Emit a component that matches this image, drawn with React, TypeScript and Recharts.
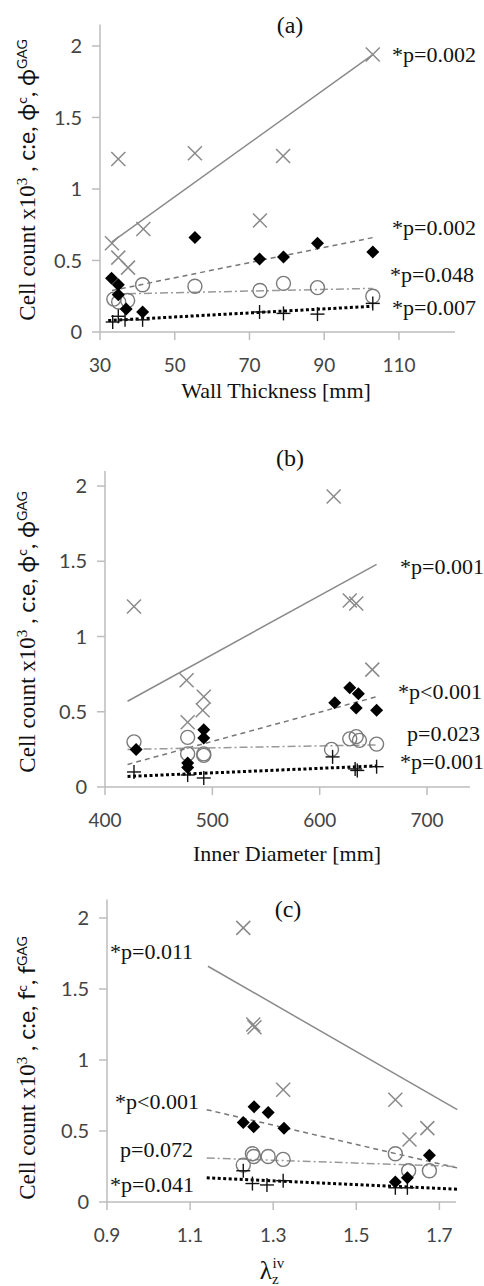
import React from 'react';
import { ScatterChart, Scatter, XAxis, YAxis, ReferenceLine } from 'recharts';

type Pt = { x: number; y: number };

// ---------- Panel (a): Wall Thickness ----------
const wallTicks = [30, 50, 70, 90, 110];
const wallCross: Pt[] = [
  { x: 33.2, y: 0.62 }, { x: 34.9, y: 1.21 }, { x: 34.9, y: 0.52 }, { x: 37.5, y: 0.45 },
  { x: 41.6, y: 0.72 }, { x: 55.4, y: 1.25 }, { x: 72.8, y: 0.78 }, { x: 79.0, y: 1.23 }, { x: 103, y: 1.94 },
];
const wallDiamond: Pt[] = [
  { x: 33.1, y: 0.375 }, { x: 34.9, y: 0.33 }, { x: 34.9, y: 0.26 }, { x: 37.0, y: 0.16 }, { x: 41.4, y: 0.14 },
  { x: 55.4, y: 0.66 }, { x: 72.7, y: 0.51 }, { x: 79.1, y: 0.525 }, { x: 88.2, y: 0.62 }, { x: 103, y: 0.56 },
];
const wallCircle: Pt[] = [
  { x: 33.7, y: 0.23 }, { x: 35.0, y: 0.21 }, { x: 37.4, y: 0.22 }, { x: 41.4, y: 0.33 }, { x: 55.4, y: 0.32 },
  { x: 72.8, y: 0.29 }, { x: 79.1, y: 0.34 }, { x: 88.2, y: 0.31 }, { x: 103, y: 0.25 },
];
const wallPlus: Pt[] = [
  { x: 33.4, y: 0.07 }, { x: 34.9, y: 0.11 }, { x: 36.7, y: 0.085 }, { x: 41.4, y: 0.085 },
  { x: 72.7, y: 0.14 }, { x: 79.1, y: 0.13 }, { x: 88.2, y: 0.125 }, { x: 103, y: 0.2 },
];
const wallTrendCross: Pt[] = [{ x: 33.2, y: 0.63 }, { x: 103, y: 1.94 }];
const wallTrendDiamond: Pt[] = [{ x: 33.2, y: 0.29 }, { x: 103, y: 0.66 }];
const wallTrendCircle: Pt[] = [{ x: 33.2, y: 0.265 }, { x: 103, y: 0.305 }];
const wallTrendPlus: Pt[] = [{ x: 32.2, y: 0.08 }, { x: 103, y: 0.18 }];

// ---------- Panel (b): Inner Diameter ----------
const diamTicks = [400, 500, 600, 700];
const diamCross: Pt[] = [
  { x: 427, y: 1.2 }, { x: 476, y: 0.71 }, { x: 477, y: 0.43 }, { x: 491, y: 0.51 }, { x: 492, y: 0.6 },
  { x: 613, y: 1.93 }, { x: 628, y: 1.24 }, { x: 634, y: 1.22 }, { x: 649, y: 0.78 },
];
const diamDiamond: Pt[] = [
  { x: 429, y: 0.25 }, { x: 477, y: 0.16 }, { x: 477, y: 0.13 }, { x: 492, y: 0.38 }, { x: 492, y: 0.325 },
  { x: 614, y: 0.56 }, { x: 628, y: 0.66 }, { x: 636, y: 0.62 }, { x: 634, y: 0.525 }, { x: 653, y: 0.51 },
];
const diamCircle: Pt[] = [
  { x: 427, y: 0.3 }, { x: 477, y: 0.33 }, { x: 477, y: 0.22 }, { x: 492, y: 0.22 }, { x: 492, y: 0.21 },
  { x: 611, y: 0.25 }, { x: 628, y: 0.32 }, { x: 634, y: 0.335 }, { x: 637, y: 0.31 }, { x: 653, y: 0.285 },
];
const diamPlus: Pt[] = [
  { x: 427, y: 0.1 }, { x: 477, y: 0.08 }, { x: 492, y: 0.06 }, { x: 612, y: 0.2 },
  { x: 633, y: 0.12 }, { x: 635, y: 0.11 }, { x: 653, y: 0.135 },
];
const diamTrendCross: Pt[] = [{ x: 421, y: 0.57 }, { x: 653, y: 1.48 }];
const diamTrendDiamond: Pt[] = [{ x: 421, y: 0.15 }, { x: 653, y: 0.6 }];
const diamTrendCircle: Pt[] = [{ x: 421, y: 0.25 }, { x: 653, y: 0.28 }];
const diamTrendPlus: Pt[] = [{ x: 421, y: 0.07 }, { x: 653, y: 0.14 }];

// ---------- Panel (c): lambda_z ----------
const lamTicks = [0.9, 1.1, 1.3, 1.5, 1.7];
const lamCross: Pt[] = [
  { x: 1.228, y: 1.93 }, { x: 1.252, y: 1.25 }, { x: 1.255, y: 1.23 }, { x: 1.324, y: 0.79 },
  { x: 1.594, y: 0.72 }, { x: 1.628, y: 0.44 }, { x: 1.671, y: 0.52 },
];
const lamDiamond: Pt[] = [
  { x: 1.228, y: 0.56 }, { x: 1.254, y: 0.67 }, { x: 1.253, y: 0.53 }, { x: 1.288, y: 0.63 },
  { x: 1.326, y: 0.52 }, { x: 1.594, y: 0.14 }, { x: 1.623, y: 0.17 }, { x: 1.676, y: 0.33 },
];
const lamCircle: Pt[] = [
  { x: 1.228, y: 0.26 }, { x: 1.25, y: 0.34 }, { x: 1.253, y: 0.32 }, { x: 1.288, y: 0.32 },
  { x: 1.324, y: 0.3 }, { x: 1.594, y: 0.34 }, { x: 1.626, y: 0.22 }, { x: 1.676, y: 0.22 },
];
const lamPlus: Pt[] = [
  { x: 1.228, y: 0.22 }, { x: 1.25, y: 0.13 }, { x: 1.285, y: 0.12 }, { x: 1.324, y: 0.15 },
  { x: 1.594, y: 0.1 }, { x: 1.623, y: 0.1 },
];
const lamTrendCross: Pt[] = [{ x: 1.143, y: 1.66 }, { x: 1.743, y: 0.65 }];
const lamTrendDiamond: Pt[] = [{ x: 1.14, y: 0.65 }, { x: 1.743, y: 0.24 }];
const lamTrendCircle: Pt[] = [{ x: 1.14, y: 0.31 }, { x: 1.743, y: 0.25 }];
const lamTrendPlus: Pt[] = [{ x: 1.14, y: 0.17 }, { x: 1.743, y: 0.09 }];

const yTicks = [0, 0.5, 1, 1.5, 2];

// ---------- shapes ----------
const CrossShape = (p: any) => {
  const { cx, cy } = p;
  const s = 7;
  return (
    <g stroke="#8a8a8a" strokeWidth={1.5}>
      <line x1={cx - s} y1={cy - s} x2={cx + s} y2={cy + s} />
      <line x1={cx - s} y1={cy + s} x2={cx + s} y2={cy - s} />
    </g>
  );
};
const DiamondShape = (p: any) => {
  const { cx, cy } = p;
  const s = 6.5;
  return <polygon points={`${cx},${cy - s} ${cx + s},${cy} ${cx},${cy + s} ${cx - s},${cy}`} fill="#000" />;
};
const CircleShape = (p: any) => {
  const { cx, cy } = p;
  return <circle cx={cx} cy={cy} r={7} fill="none" stroke="#7a7a7a" strokeWidth={1.4} />;
};
const PlusShape = (p: any) => {
  const { cx, cy } = p;
  const s = 7;
  return (
    <g stroke="#111" strokeWidth={1.4}>
      <line x1={cx - s} y1={cy} x2={cx + s} y2={cy} />
      <line x1={cx} y1={cy - s} x2={cx} y2={cy + s} />
    </g>
  );
};

const serif = '"Liberation Serif", "Times New Roman", serif';
const sans = 'Lato, "Open Sans", sans-serif';

type PanelProps = {
  top: number;
  height: number;
  plotLeft: number;
  plotRight: number;
  plotTop: number;
  plotBottom: number;
  xDomain: [number, number];
  xTicks: number[];
  yMax: number;
  cross: Pt[];
  diamond: Pt[];
  circle: Pt[];
  plus: Pt[];
  tCross: Pt[];
  tDiamond: Pt[];
  tCircle: Pt[];
  tPlus: Pt[];
};

const Y_AXIS_W = 60;
const X_AXIS_H = 40;

const Panel = (p: PanelProps) => {
  const margin = {
    top: p.plotTop,
    left: p.plotLeft - Y_AXIS_W,
    right: 484 - p.plotRight,
    bottom: p.height - p.plotBottom - X_AXIS_H,
  };
  const seg = (a: Pt[]) => [{ x: a[0].x, y: a[0].y }, { x: a[1].x, y: a[1].y }] as any;
  return (
    <div style={{ position: 'absolute', left: 0, top: p.top }}>
      <ScatterChart width={484} height={p.height} margin={margin}>
        <XAxis
          type="number"
          dataKey="x"
          domain={p.xDomain}
          ticks={p.xTicks}
          allowDataOverflow
          height={X_AXIS_H}
          axisLine={{ stroke: '#bdbdbd', strokeWidth: 1.5 }}
          tickLine={{ stroke: '#bdbdbd', strokeWidth: 1.5 }}
          tickSize={8}
          tickMargin={19}
          tick={{ fill: '#444', fontSize: 19, fontFamily: sans }}
        />
        <YAxis
          type="number"
          dataKey="y"
          domain={[0, p.yMax]}
          ticks={yTicks}
          allowDataOverflow
          width={Y_AXIS_W}
          axisLine={{ stroke: '#bdbdbd', strokeWidth: 1.5 }}
          tickLine={{ stroke: '#bdbdbd', strokeWidth: 1.5 }}
          tickSize={8}
          tickMargin={10}
          tick={{ fill: '#444', fontSize: 20, fontFamily: sans }}
        />
        <ReferenceLine segment={seg(p.tCross)} stroke="#8a8a8a" strokeWidth={1.5} ifOverflow="visible" />
        <ReferenceLine segment={seg(p.tDiamond)} stroke="#777" strokeWidth={1.5} strokeDasharray="5 4" ifOverflow="visible" />
        <ReferenceLine segment={seg(p.tCircle)} stroke="#999" strokeWidth={1.5} strokeDasharray="8 3 2 3" ifOverflow="visible" />
        <ReferenceLine segment={seg(p.tPlus)} stroke="#000" strokeWidth={3} strokeDasharray="3 2.5" ifOverflow="visible" />
        <Scatter data={p.cross} shape={CrossShape} isAnimationActive={false} />
        <Scatter data={p.circle} shape={CircleShape} isAnimationActive={false} />
        <Scatter data={p.plus} shape={PlusShape} isAnimationActive={false} />
        <Scatter data={p.diamond} shape={DiamondShape} isAnimationActive={false} />
      </ScatterChart>
    </div>
  );
};

const txt = (s: string, left: number, cy: number, size = 22) => (
  <div
    style={{
      position: 'absolute',
      left,
      top: cy,
      transform: 'translateY(-50%)',
      fontFamily: serif,
      fontSize: size,
      lineHeight: 1,
      whiteSpace: 'nowrap',
      color: '#111',
    }}
  >
    {s}
  </div>
);

const centered = (content: React.ReactNode, cx: number, cy: number, size = 22) => (
  <div
    style={{
      position: 'absolute',
      left: cx,
      top: cy,
      transform: 'translate(-50%,-50%)',
      fontFamily: serif,
      fontSize: size,
      lineHeight: 1,
      whiteSpace: 'nowrap',
      color: '#111',
    }}
  >
    {content}
  </div>
);

const sup = (s: string) => (
  <span style={{ fontSize: 14, verticalAlign: '0.55em', fontFamily: sans }}>{s}</span>
);

const yLabel = (sym: string, cy: number) => (
  <div
    style={{
      position: 'absolute',
      left: 27,
      top: cy,
      transform: 'translate(-50%,-50%) rotate(-90deg)',
      fontFamily: serif,
      fontSize: 23,
      lineHeight: 1,
      whiteSpace: 'nowrap',
      color: '#111',
    }}
  >
    Cell count x10<span style={{ fontSize: 15, verticalAlign: '0.55em' }}>3</span>
    <span style={{ fontFamily: sans }}> , c:e, {sym}</span>
    {sup('c')}
    <span style={{ fontFamily: sans }}>, {sym}</span>
    {sup('GAG')}
  </div>
);

export default function App() {
  return (
    <div style={{ position: 'absolute', left: 0, top: 0, width: 484, height: 1286, background: '#fff', overflow: 'hidden' }}>
      <Panel
        top={0}
        height={400}
        plotLeft={100}
        plotRight={455}
        plotTop={24.5}
        plotBottom={332}
        xDomain={[30, 125]}
        xTicks={wallTicks}
        yMax={2.15}
        cross={wallCross}
        diamond={wallDiamond}
        circle={wallCircle}
        plus={wallPlus}
        tCross={wallTrendCross}
        tDiamond={wallTrendDiamond}
        tCircle={wallTrendCircle}
        tPlus={wallTrendPlus}
      />
      <Panel
        top={420}
        height={440}
        plotLeft={105}
        plotRight={470}
        plotTop={51}
        plotBottom={367}
        xDomain={[400, 740]}
        xTicks={diamTicks}
        yMax={2.1}
        cross={diamCross}
        diamond={diamDiamond}
        circle={diamCircle}
        plus={diamPlus}
        tCross={diamTrendCross}
        tDiamond={diamTrendDiamond}
        tCircle={diamTrendCircle}
        tPlus={diamTrendPlus}
      />
      <Panel
        top={870}
        height={380}
        plotLeft={107}
        plotRight={456}
        plotTop={29.5}
        plotBottom={332}
        xDomain={[0.9, 1.74]}
        xTicks={lamTicks}
        yMax={2.13}
        cross={lamCross}
        diamond={lamDiamond}
        circle={lamCircle}
        plus={lamPlus}
        tCross={lamTrendCross}
        tDiamond={lamTrendDiamond}
        tCircle={lamTrendCircle}
        tPlus={lamTrendPlus}
      />

      {/* titles */}
      {centered('(a)', 290, 25, 24)}
      {centered('(b)', 290, 458, 24)}
      {centered('(c)', 288, 909, 24)}

      {/* axis titles */}
      {centered('Wall Thickness [mm]', 276, 391, 22)}
      {centered('Inner Diameter [mm]', 287, 854, 22)}
      {centered(
        <span>
          λ<span style={{ fontSize: 15, verticalAlign: '-0.3em' }}>z</span>
          <span style={{ fontSize: 15, verticalAlign: '0.7em', marginLeft: -6 }}>iv</span>
        </span>,
        272,
        1271,
        25,
      )}

      {/* y labels */}
      {yLabel('ϕ', 180)}
      {yLabel('ϕ', 632)}
      {yLabel('f', 1068)}

      {/* p-values (a) */}
      {txt('*p=0.002', 392, 55)}
      {txt('*p=0.002', 392, 228)}
      {txt('*p=0.048', 390, 275)}
      {txt('*p=0.007', 392, 308)}
      {/* p-values (b) */}
      {txt('*p=0.001', 400, 567)}
      {txt('*p<0.001', 398, 692)}
      {txt('p=0.023', 407, 734)}
      {txt('*p=0.001', 400, 762)}
      {/* p-values (c) */}
      {txt('*p=0.011', 110, 952)}
      {txt('*p<0.001', 115, 1102)}
      {txt('p=0.072', 120, 1150)}
      {txt('*p=0.041', 110, 1185)}
    </div>
  );
}
